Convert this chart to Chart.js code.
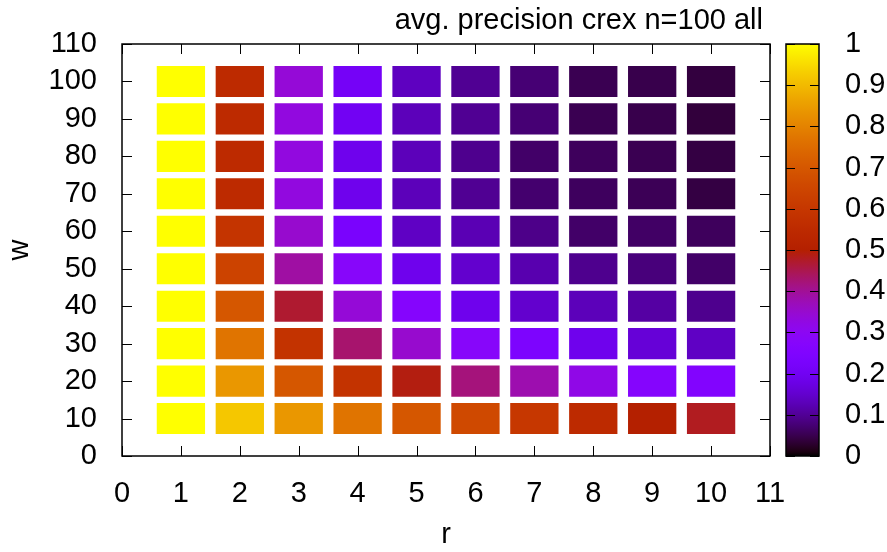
<!DOCTYPE html>
<html>
<head>
<meta charset="utf-8">
<title>avg. precision crex n=100 all</title>
<script src="https://cdn.jsdelivr.net/npm/chart.js@4.4.0/dist/chart.umd.min.js"></script>
<style>
  html, body { margin: 0; padding: 0; background: #fff; }
  #wrap { width: 887px; height: 552px; }
</style>
</head>
<body>
<div id="wrap"><canvas id="heat"></canvas></div>
<script>
// grid positions
const rValues = [1, 2, 3, 4, 5, 6, 7, 8, 9, 10];
const wValues = [10, 20, 30, 40, 50, 60, 70, 80, 90, 100];

// avg. precision per w row, r = 1..10
const precW10  = [1.00, 0.92, 0.84, 0.77, 0.70, 0.66, 0.60, 0.55, 0.50, 0.48];
const precW20  = [1.00, 0.84, 0.70, 0.585, 0.49, 0.42, 0.38, 0.32, 0.27, 0.26];
const precW30  = [1.00, 0.77, 0.585, 0.43, 0.35, 0.28, 0.24, 0.19, 0.16, 0.14];
const precW40  = [1.00, 0.70, 0.47, 0.34, 0.27, 0.19, 0.15, 0.13, 0.11, 0.094];
const precW50  = [1.00, 0.64, 0.39, 0.28, 0.19, 0.15, 0.12, 0.094, 0.08, 0.067];
const precW60  = [1.00, 0.59, 0.35, 0.23, 0.14, 0.125, 0.09, 0.067, 0.065, 0.059];
const precW70  = [1.00, 0.55, 0.33, 0.19, 0.13, 0.098, 0.071, 0.06, 0.055, 0.042];
const precW80  = [1.00, 0.55, 0.33, 0.19, 0.13, 0.094, 0.067, 0.059, 0.052, 0.042];
const precW90  = [1.00, 0.55, 0.33, 0.20, 0.13, 0.098, 0.075, 0.052, 0.048, 0.038];
const precW100 = [1.00, 0.55, 0.34, 0.21, 0.136, 0.098, 0.075, 0.052, 0.048, 0.04];
const precRows = [precW10, precW20, precW30, precW40, precW50, precW60, precW70, precW80, precW90, precW100];

// tick labels
const xTickValues = [0, 1, 2, 3, 4, 5, 6, 7, 8, 9, 10, 11];
const yTickValues = [0, 10, 20, 30, 40, 50, 60, 70, 80, 90, 100, 110];
const cbTickValues = [0, 0.1, 0.2, 0.3, 0.4, 0.5, 0.6, 0.7, 0.8, 0.9, 1];

const chartTitle = "avg. precision crex n=100 all";
const cellHalf = 4.15; // half cell height in w units
const fontFamily = "'Liberation Sans', Arial, sans-serif";

// gnuplot default palette (rgbformulae 7,5,15)
function paletteColor(v) {
  const r = Math.sqrt(v);
  const g = v * v * v;
  const b = Math.max(0, Math.sin(2 * Math.PI * v));
  return "rgb(" + Math.round(255 * r) + "," + Math.round(255 * g) + "," + Math.round(255 * b) + ")";
}

const cells = [];
wValues.forEach((w, i) => {
  rValues.forEach((r, j) => {
    cells.push({ x: r, y: [w - cellHalf, w + cellHalf], v: precRows[i][j] });
  });
});

Chart.defaults.font.family = fontFamily;
Chart.defaults.font.size = 29;
Chart.defaults.color = "#000";

function setTicks(values) {
  return (scale) => {
    scale.ticks = values.map((v) => ({ value: v }));
  };
}

// label gap is given through tickLength (grid hidden) so it does not pad the chart area
function hiddenGrid(gap) {
  return { display: false, drawTicks: true, tickLength: gap, offset: false };
}

const framePlugin = {
  id: "frame",
  afterDatasetsDraw(chart) {
    const { ctx, chartArea: a, scales } = chart;
    const x = scales.x, y = scales.y, cb = scales.cb;
    ctx.save();
    ctx.strokeStyle = "#000";
    ctx.lineWidth = 1;
    ctx.beginPath();
    x.ticks.forEach((t) => {
      const px = Math.round(x.getPixelForValue(t.value)) + 0.5;
      ctx.moveTo(px, a.bottom);
      ctx.lineTo(px, a.bottom - 10);
      ctx.moveTo(px, a.top);
      ctx.lineTo(px, a.top + 10);
    });
    y.ticks.forEach((t) => {
      const py = Math.round(y.getPixelForValue(t.value)) + 0.5;
      ctx.moveTo(a.left, py);
      ctx.lineTo(a.left + 10, py);
      ctx.moveTo(a.right, py);
      ctx.lineTo(a.right - 10, py);
    });
    ctx.stroke();
    ctx.lineWidth = 1.5;
    ctx.strokeRect(a.left, a.top, a.right - a.left, a.bottom - a.top);

    // colour box
    const x0 = a.right + 16, x1 = a.right + 49;
    const yb = cb.getPixelForValue(0), yt = cb.getPixelForValue(1);
    const grad = ctx.createLinearGradient(0, yb, 0, yt);
    for (let i = 0; i <= 100; i++) grad.addColorStop(i / 100, paletteColor(i / 100));
    ctx.fillStyle = grad;
    ctx.fillRect(x0, yt, x1 - x0, yb - yt);
    ctx.lineWidth = 1;
    ctx.beginPath();
    cb.ticks.forEach((t) => {
      const py = Math.round(cb.getPixelForValue(t.value)) + 0.5;
      ctx.moveTo(x0, py);
      ctx.lineTo(x0 + 9, py);
      ctx.moveTo(x1, py);
      ctx.lineTo(x1 - 9, py);
    });
    ctx.stroke();
    ctx.lineWidth = 1.5;
    ctx.strokeRect(x0, yt, x1 - x0, yb - yt);

    // title, right aligned over the plot
    ctx.fillStyle = "#000";
    ctx.font = "29px " + fontFamily;
    ctx.textAlign = "right";
    ctx.textBaseline = "alphabetic";
    ctx.fillText(chartTitle, a.right - 7, a.top - 15);
    ctx.restore();
  },
};

new Chart(document.getElementById("heat"), {
  type: "bar",
  data: {
    datasets: [
      {
        data: cells,
        backgroundColor: cells.map((c) => paletteColor(c.v)),
        categoryPercentage: 1,
        barPercentage: 0.82,
        grouped: false,
        borderWidth: 0,
      },
    ],
  },
  options: {
    responsive: true,
    maintainAspectRatio: false,
    animation: false,
    layout: { padding: { top: 44, left: 0, right: 0, bottom: 0 } },
    scales: {
      x: {
        type: "linear",
        offset: false,
        min: 0,
        max: 11,
        afterBuildTicks: setTicks(xTickValues),
        afterFit: (s) => { s.height = 96; },
        grid: hiddenGrid(21),
        border: { display: false },
        ticks: { padding: 0, maxRotation: 0, autoSkip: false },
        title: { display: true, text: "r", padding: { top: 0, bottom: 0 } },
      },
      y: {
        type: "linear",
        min: 0,
        max: 110,
        afterBuildTicks: setTicks(yTickValues),
        afterFit: (s) => { s.width = 122; },
        grid: hiddenGrid(25),
        border: { display: false },
        ticks: { padding: 0, autoSkip: false },
        title: { display: true, text: "w", padding: { top: 3, bottom: 0 } },
      },
      cb: {
        type: "linear",
        position: "right",
        min: 0,
        max: 1,
        afterBuildTicks: setTicks(cbTickValues),
        afterFit: (s) => { s.width = 117; },
        grid: hiddenGrid(75),
        border: { display: false },
        ticks: { padding: 0, autoSkip: false, callback: (v) => String(+v.toFixed(1)) },
      },
    },
    plugins: {
      legend: { display: false },
      tooltip: { enabled: false },
      title: { display: false },
    },
  },
  plugins: [framePlugin],
});
</script>
</body>
</html>
